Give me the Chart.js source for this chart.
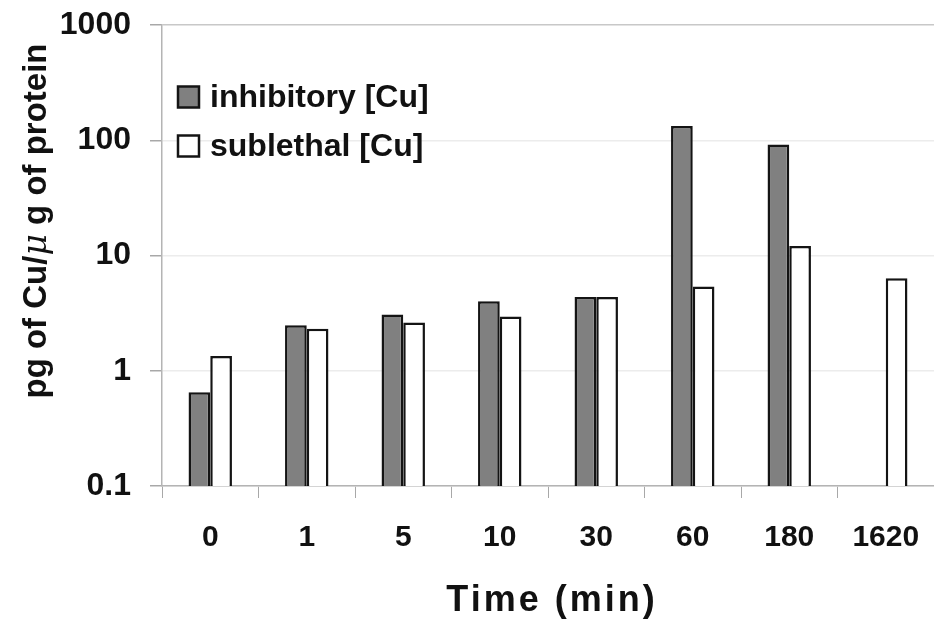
<!DOCTYPE html>
<html>
<head>
<meta charset="utf-8">
<script src="https://cdn.jsdelivr.net/npm/chart.js@4"></script>
<style>
  html, body { margin: 0; padding: 0; background: #fff; }
  #wrap { width: 934px; height: 624px; position: relative; }
</style>
</head>
<body>
<div id="wrap"><canvas id="cuchart"></canvas></div>
<script>
// values (pg Cu / ug protein)
var timeLabels = ['0', '1', '5', '10', '30', '60', '180', '1620']
var inhibitory = [0.65, 2.48, 3.07, 4.01, 4.37, 133, 92, null]
var sublethal = [1.34, 2.32, 2.62, 2.95, 4.37, 5.37, 12.1, 6.34]
var yTicks = [0.1, 1, 10, 100, 1000]

var FONT = "'Liberation Sans', Arial, sans-serif"

// legend drawn inside the plot, top left
const insideLegend = {
  id: 'insideLegend',
  afterDraw(chart) {
    let ctx = chart.ctx
    let rows = [97, 146]
    ctx.save()
    chart.data.datasets.forEach((ds, i) => {
      let y = rows[i]
      ctx.fillStyle = ds.backgroundColor
      ctx.strokeStyle = ds.borderColor
      ctx.lineWidth = 2.5
      ctx.fillRect(178, y - 10.5, 21, 21)
      ctx.strokeRect(178, y - 10.5, 21, 21)
      ctx.fillStyle = '#111'
      ctx.font = 'bold 32px ' + FONT
      ctx.textBaseline = 'middle'
      ctx.textAlign = 'left'
      ctx.fillText(ds.label, 210, y + 1)
    })
    ctx.restore()
  }
}

// axis titles: y with the italic mu, x with a bit of tracking
const axisTitles = {
  id: 'axisTitles',
  afterDraw(chart) {
    let ctx = chart.ctx
    let parts = [
      { t: 'pg of Cu/', f: 'bold 33px ' + FONT },
      { t: '\u03bc', f: 'italic 33px ' + "'DejaVu Serif', serif" },
      { t: ' g of protein', f: 'bold 33px ' + FONT }
    ]
    ctx.save()
    let total = 0
    parts.forEach(p => { ctx.font = p.f; p.w = ctx.measureText(p.t).width; total += p.w })
    ctx.translate(46, 221)
    ctx.rotate(-Math.PI / 2)
    ctx.fillStyle = '#111'
    ctx.textBaseline = 'alphabetic'
    ctx.textAlign = 'left'
    let x = -total / 2
    parts.forEach(p => { ctx.font = p.f; ctx.fillText(p.t, x, 0); x += p.w })
    ctx.restore()

    let area = chart.chartArea
    ctx.save()
    ctx.font = 'bold 36px ' + FONT
    ctx.letterSpacing = '3px'
    ctx.fillStyle = '#111'
    ctx.textAlign = 'center'
    ctx.textBaseline = 'middle'
    ctx.fillText('Time (min)', (area.left + area.right) / 2 + 4, 601)
    ctx.restore()
  }
}

const cuconfig = {
  type: 'bar',
  data: {
    labels: timeLabels,
    datasets: [
      {
        label: 'inhibitory [Cu]',
        data: inhibitory,
        backgroundColor: '#808080',
        borderColor: '#141414',
        borderWidth: 2.5
      },
      {
        label: 'sublethal [Cu]',
        data: sublethal,
        backgroundColor: '#ffffff',
        borderColor: '#141414',
        borderWidth: 2.5
      }
    ]
  },
  options: {
    responsive: true,
    maintainAspectRatio: false,
    animation: false,
    layout: { padding: { top: 25, right: 0, left: 0, bottom: 0 } },
    datasets: { bar: { categoryPercentage: 0.45, barPercentage: 1 } },
    scales: {
      x: {
        grid: {
          offset: true,
          drawOnChartArea: false,
          drawTicks: true,
          tickLength: 12,
          tickColor: '#a8a8a8'
        },
        border: { color: '#b4b4b4', width: 1.5 },
        ticks: {
          color: '#111',
          font: { family: FONT, size: 30, weight: 'bold' },
          padding: 22,
          maxRotation: 0,
          autoSkip: false
        },
        afterFit(scale) {
          scale.height = 138
          scale.paddingLeft = 0
          scale.paddingRight = 0
        }
      },
      y: {
        type: 'logarithmic',
        min: 0.1,
        max: 1000,
        afterBuildTicks(scale) { scale.ticks = yTicks.map(v => ({ value: v })) },
        grid: {
          color: ctx => (ctx.tick && ctx.tick.value === 1000) ? '#c8c8c8' : '#ececec',
          lineWidth: 1.5,
          tickLength: 12,
          tickColor: '#a8a8a8'
        },
        border: { color: '#b4b4b4', width: 1.5 },
        ticks: {
          color: '#111',
          font: { family: FONT, size: 32, weight: 'bold' },
          padding: 19,
          callback: v => String(v)
        },
        afterFit(scale) {
          scale.width = 162
          scale.paddingTop = 0
          scale.paddingBottom = 0
        }
      }
    },
    plugins: {
      legend: { display: false },
      tooltip: { enabled: false }
    }
  },
  plugins: [insideLegend, axisTitles]
}

new Chart(document.getElementById('cuchart'), cuconfig)
</script>
</body>
</html>
